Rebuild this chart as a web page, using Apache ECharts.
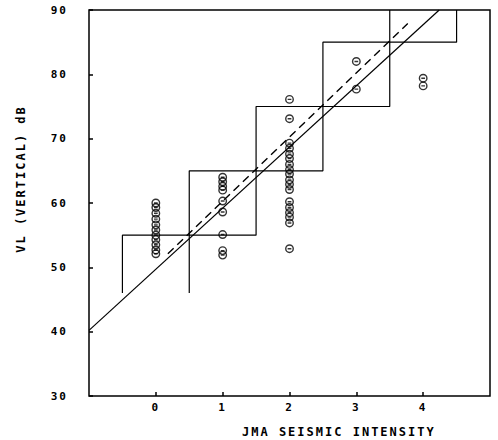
<!DOCTYPE html>
<html>
<head>
<meta charset="utf-8">
<script src="https://cdn.jsdelivr.net/npm/echarts@6/dist/echarts.min.js"></script>
<style>
html,body{margin:0;padding:0;background:#fff;}
#chart{width:498px;height:440px;}
#chart text{letter-spacing:2px;}
</style>
</head>
<body>
<div id="chart"></div>
<script>
// ---- data ----
var xTicks = [0, 1, 2, 3, 4];
var yTicks = [30, 40, 50, 60, 70, 80, 90];
var xName = 'JMA SEISMIC INTENSITY';
var yName = 'VL (VERTICAL) dB';

var vl0 = [60, 59.3, 58.4, 57.5, 56.6, 55.8, 55, 54.3, 53.5, 52.7, 52.1];
var vl1 = [64, 63.3, 62.6, 62, 60.3, 58.6, 55.1, 52.6, 51.9];
var vl2 = [76.1, 73.1, 69.3, 68.5, 67.6, 66.9, 66, 65.2, 64.5, 63.6, 62.9, 62.1, 60.2, 59.3, 58.5, 57.8, 56.9, 52.9];
var vl3 = [82, 77.7];
var vl4 = [79.4, 78.2];

// staircase boundaries (intensity, VL)
var stairUpperX = [-0.5, -0.5, 0.5, 0.5, 1.5, 1.5, 2.5, 2.5, 3.5, 3.5];
var stairUpperY = [46, 55, 55, 65, 65, 75, 75, 85, 85, 90];
var stairLowerX = [0.5, 0.5, 1.5, 1.5, 2.5, 2.5, 3.5, 3.5, 4.5, 4.5];
var stairLowerY = [46, 55, 55, 65, 65, 75, 75, 85, 85, 90];

// regression lines (end points)
var solidX = [-1, 4.24];
var solidY = [40.2, 90];
var dashX = [0.18, 3.77];
var dashY = [52.1, 87.9];

// ---- build ----
function pairs(xs, ys){ return xs.map(function(x,i){ return [x, ys[i]]; }); }
var points = [];
[[0, vl0], [1, vl1], [2, vl2], [3, vl3], [4, vl4]].forEach(function(g){
  g[1].forEach(function(v){ points.push([g[0], v]); });
});

var FONT = 'DejaVu Sans Mono';
var chart = echarts.init(document.getElementById('chart'), null, {renderer: 'svg'});
var lineBase = {type: 'line', symbol: 'none', silent: true, animation: false,
  lineStyle: {color: '#000', width: 1.2}};

chart.setOption({
  animation: false,
  grid: {left: 89, right: 8, top: 10, bottom: 44, show: true,
    borderColor: '#000', borderWidth: 1.5, backgroundColor: 'transparent'},
  xAxis: {
    type: 'value', min: -1, max: 5, interval: 1,
    splitLine: {show: false},
    axisLine: {show: false, onZero: false},
    axisTick: {show: true, inside: true, length: 4, customValues: xTicks,
      lineStyle: {color: '#000', width: 1.5}},
    axisLabel: {customValues: xTicks, margin: 6, color: '#000',
      fontFamily: FONT, fontWeight: 'bold', fontSize: 11}
  },
  yAxis: {
    type: 'value', min: 30, max: 90, interval: 10,
    splitLine: {show: false},
    axisLine: {show: false, onZero: false},
    axisTick: {show: true, inside: true, length: 4, customValues: yTicks,
      lineStyle: {color: '#000', width: 1.5}},
    axisLabel: {customValues: yTicks, margin: 21, color: '#000',
      fontFamily: FONT, fontWeight: 'bold', fontSize: 11}
  },
  graphic: [
    {type: 'text', left: 242, top: 426, silent: true,
      style: {text: xName, fill: '#000', font: 'bold 12px "DejaVu Sans Mono"'}},
    {type: 'text', x: 21, y: 179, rotation: Math.PI / 2, silent: true,
      style: {text: yName, fill: '#000', font: 'bold 12px "DejaVu Sans Mono"',
        align: 'center', verticalAlign: 'middle'}}
  ],
  series: [
    Object.assign({}, lineBase, {data: pairs(stairUpperX, stairUpperY)}),
    Object.assign({}, lineBase, {data: pairs(stairLowerX, stairLowerY)}),
    Object.assign({}, lineBase, {data: pairs(solidX, solidY)}),
    Object.assign({}, lineBase, {data: pairs(dashX, dashY),
      lineStyle: {color: '#000', width: 1.4, type: [8, 5]}}),
    {type: 'scatter', silent: true, animation: false,
      symbol: 'path://M0,5A5,5,0,1,1,10,5A5,5,0,1,1,0,5ZM2.5,5L7.5,5',
      symbolSize: 7.5,
      itemStyle: {color: 'rgba(0,0,0,0)', borderColor: '#000', borderWidth: 1.4},
      data: points}
  ]
});
</script>
</body>
</html>
